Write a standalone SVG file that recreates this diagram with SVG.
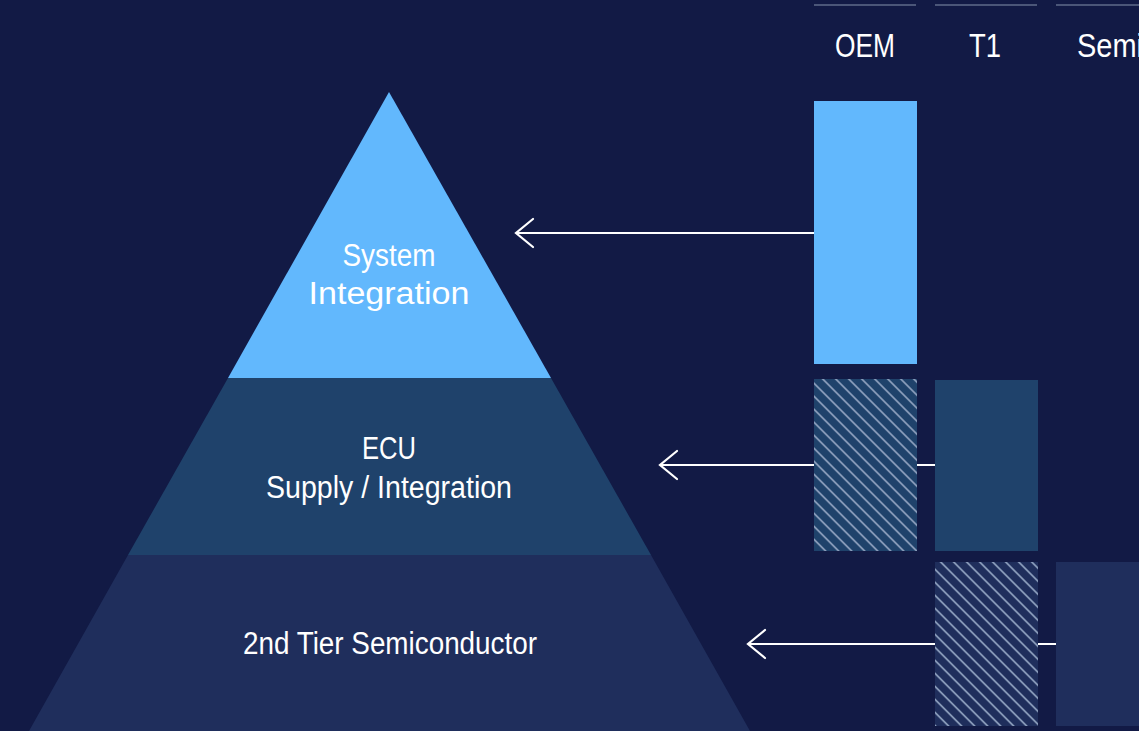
<svg xmlns="http://www.w3.org/2000/svg" width="1139" height="731" viewBox="0 0 1139 731">
  <style>
    .lbl { font-family: "Liberation Sans", "Noto Sans", sans-serif; font-size: 31px; fill: #ffffff; text-anchor: middle; }
    .hdr { font-family: "Liberation Sans", "Noto Sans", sans-serif; font-size: 33px; fill: #ffffff; }
    .conn { stroke: #ffffff; stroke-width: 2.2; fill: none; }
    .head { stroke: #ffffff; stroke-width: 2.2; fill: none; stroke-linecap: round; stroke-linejoin: miter; }
    .col { stroke: #4b5678; stroke-width: 2; }
  </style>
  <defs>
    <pattern id="hatchMid" patternUnits="userSpaceOnUse" width="9.2" height="9.2" patternTransform="rotate(-45)">
      <rect width="9.2" height="9.2" fill="#1f426b"/>
      <line x1="1" y1="0" x2="1" y2="9.2" stroke="#8d9fbd" stroke-width="1.7"/>
    </pattern>
    <pattern id="hatchLow" patternUnits="userSpaceOnUse" width="9.2" height="9.2" patternTransform="rotate(-45)">
      <rect width="9.2" height="9.2" fill="#1f2e5c"/>
      <line x1="1" y1="0" x2="1" y2="9.2" stroke="#8d9fbd" stroke-width="1.7"/>
    </pattern>
  </defs>
  <rect width="1139" height="731" fill="#121a45"/>

  <g id="pyramid-top">
    <polygon points="389,92 551,378 228,378" fill="#62b8fd"/>
    <text class="lbl" x="389" y="266" textLength="93" lengthAdjust="spacingAndGlyphs">System</text>
    <text class="lbl" x="389" y="304" textLength="161" lengthAdjust="spacingAndGlyphs">Integration</text>
  </g>
  <g id="pyramid-mid">
    <polygon points="228,378 551,378 651,555 128,555" fill="#1f426b"/>
    <text class="lbl" x="389" y="459" textLength="54" lengthAdjust="spacingAndGlyphs">ECU</text>
    <text class="lbl" x="389" y="498" textLength="246" lengthAdjust="spacingAndGlyphs">Supply / Integration</text>
  </g>
  <g id="pyramid-low">
    <polygon points="128,555 651,555 750,731 29,731" fill="#1f2e5c"/>
    <text class="lbl" x="390" y="654" textLength="294" lengthAdjust="spacingAndGlyphs">2nd Tier Semiconductor</text>
  </g>

  <g id="header-oem">
    <line class="col" x1="814" y1="5" x2="916" y2="5"/>
    <text class="hdr" x="865" y="57" text-anchor="middle" textLength="60" lengthAdjust="spacingAndGlyphs">OEM</text>
  </g>
  <g id="header-t1">
    <line class="col" x1="935" y1="5" x2="1037" y2="5"/>
    <text class="hdr" x="985" y="57" text-anchor="middle" textLength="32" lengthAdjust="spacingAndGlyphs">T1</text>
  </g>
  <g id="header-semi">
    <line class="col" x1="1056" y1="5" x2="1139" y2="5"/>
    <text class="hdr" x="1077" y="57" textLength="66" lengthAdjust="spacingAndGlyphs">Semi</text>
  </g>

  <g id="connectors">
    <line class="conn" x1="814" y1="233" x2="516" y2="233"/>
    <polyline class="head" points="533,219 516,233 533,247"/>
    <line class="conn" x1="935" y1="465" x2="660" y2="465"/>
    <polyline class="head" points="677,451 660,465 677,479"/>
    <line class="conn" x1="1056" y1="644" x2="748" y2="644"/>
    <polyline class="head" points="765,630 748,644 765,658"/>
  </g>

  <g id="bar-oem-system">
    <rect x="814" y="101" width="103" height="263" fill="#62b8fd"/>
  </g>
  <g id="bar-oem-ecu">
    <rect x="814" y="379" width="103" height="172" fill="url(#hatchMid)"/>
  </g>
  <g id="bar-t1-ecu">
    <rect x="935" y="380" width="103" height="171" fill="#1f426b"/>
  </g>
  <g id="bar-t1-semi">
    <rect x="935" y="562" width="103" height="164" fill="url(#hatchLow)"/>
  </g>
  <g id="bar-semi-semi">
    <rect x="1056" y="562" width="83" height="164" fill="#1f2e5c"/>
  </g>
</svg>
